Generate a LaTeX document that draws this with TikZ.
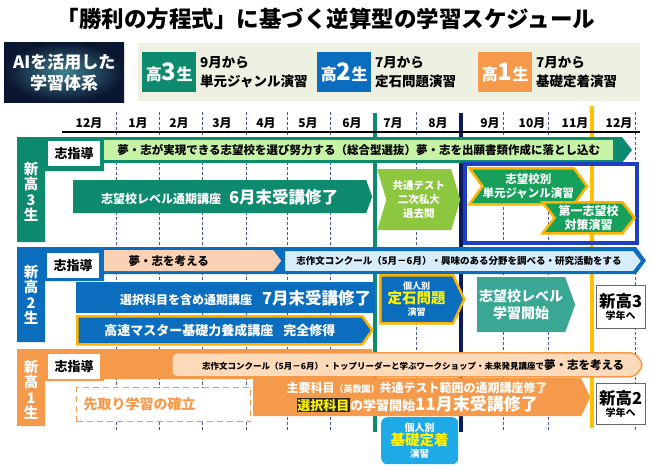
\documentclass[tikz,border=0pt]{standalone}
\usepackage{fontspec}
\setmainfont{Noto Sans CJK JP}
\usepackage{tikz}
\usepackage{xcolor}
\usetikzlibrary{positioning, shapes.symbols}

\definecolor{green3}{HTML}{0E8A6E}
\definecolor{lightgreen}{HTML}{C8F2A6}
\definecolor{leaf}{HTML}{8DC63F}
\definecolor{royal}{HTML}{1D3FC4}
\definecolor{chevgreen}{HTML}{17A05A}
\definecolor{amber}{HTML}{FFB300}
\definecolor{blue2}{HTML}{0B6DBE}
\definecolor{peach}{HTML}{FAD1B2}
\definecolor{skyband}{HTML}{D7EDFB}
\definecolor{teal2}{HTML}{3AA794}
\definecolor{orange1}{HTML}{F5994A}
\definecolor{lightpeach}{HTML}{FDDAB9}
\definecolor{sky}{HTML}{1EAAE6}
\definecolor{goldbar}{HTML}{FFC000}
\definecolor{navybar}{HTML}{0B1B5E}
\definecolor{beige}{HTML}{EEF1E2}
\definecolor{gridblue}{HTML}{4A5A96}
\definecolor{hiyellow}{HTML}{FFF200}
\definecolor{aidark}{HTML}{0A1530}
\definecolor{aiglow}{HTML}{3F7F8F}

\newcommand{\fsz}[2]{\fontsize{#1}{#2}\selectfont}
\setlength{\fboxsep}{0.8pt}

\begin{document}
\begin{tikzpicture}[
    x=1pt, y=-1pt,
    every node/.style={inner sep=0pt},
    month/.style={font=\bfseries\fsz{12}{12}},
    gridline/.style={gridblue, dash pattern=on 2.5pt off 2.5pt, line width=0.7pt},
    gradebox/.style={anchor=north west, minimum width=54pt, minimum height=40pt, text=white, font=\bfseries\fsz{16}{16}},
    legendtext/.style={anchor=west, align=left, font=\bfseries\fsz{13.5}{19}},
    shido/.style={anchor=north west, fill=white, minimum width=52pt, minimum height=25pt, font=\bfseries\fsz{13}{13}},
    rowlabel/.style={text=white, align=center, font=\bfseries\fsz{14.5}{15.5}},
    chevron/.style={signal, signal to=east, anchor=north west, text=white, align=center},
    nextyear/.style={anchor=north west, draw=black!60, fill=white, align=center, minimum width=49pt, minimum height=43pt},
  ]
  \fill[white] (0,0) rectangle (655,469);
  \useasboundingbox (0,0) rectangle (655,469);

  % title and legend
  \node[font=\bfseries\fsz{22.5}{24}] (title) at (326,19) {「勝利の方程式」に基づく逆算型の学習スケジュール};
  \node[anchor=north west, inner color=aiglow, outer color=aidark, minimum width=120pt, minimum height=60pt,
        text=white, align=center, font=\bfseries\fsz{17}{21}] (ai) at (4,42) {AIを活用した\\学習体系};
  \node[anchor=north west, fill=beige, minimum width=502pt, minimum height=58pt] (legend) at (138,43) {};
  \node[gradebox, fill=green3] (g3) at (142,52) {高{\fsz{24}{24}3}生};
  \node[legendtext] (g3text) at (200,72) {9月から\\単元ジャンル演習};
  \node[gradebox, fill=blue2] (g2) at (317,52) {高{\fsz{24}{24}2}生};
  \node[legendtext] (g2text) at (375,72) {7月から\\定石問題演習};
  \node[gradebox, fill=orange1] (g1) at (478,52) {高{\fsz{24}{24}1}生};
  \node[legendtext] (g1text) at (536,72) {7月から\\基礎定着演習};

  % month axis
  \foreach \dx in {116,159,202,246,287,330,416,503,548,635}
    \draw[gridline] (\dx,112) -- (\dx,430);
  \draw[green3, line width=4pt] (375,113) -- (375,432);
  \draw[navybar, line width=4pt] (461,113) -- (461,432);
  \draw[goldbar, line width=4pt] (592,106) -- (592,428);
  \draw[line width=1.5pt] (62,132) -- (640,132);
  \foreach \mx/\ml in {89/12月, 138/1月, 179/2月, 222/3月, 266/4月, 308/5月, 352/6月,
                       393/7月, 438/8月, 490/9月, 532/10月, 575/11月, 619/12月}
    \node[month] (m\mx) at (\mx,123) {\ml};

  % 新高3生
  \fill[green3] (17,137) -- (622,137) -- (632,150) -- (622,163) -- (104,163) -- (104,171)
    -- (45,171) -- (45,242) -- (17,242) -- cycle;
  \node[rowlabel] (lab3) at (31,192) {新\\高\\3\\生};
  \node[shido] (shido3) at (48,141) {志指導};
  \node[anchor=north west, fill=lightgreen, minimum width=509pt, minimum height=20pt, font=\bfseries\fsz{11.5}{11.5}]
    (dream3) at (104,140) {夢・志が実現できる志望校を選び努力する（総合型選抜）夢・志を出願書類作成に落とし込む};
  \node[chevron, fill=green3, minimum width=299pt, minimum height=33pt, signal pointer angle=140, font=\bfseries]
    (course3) at (73,180) {{\fsz{12}{12}志望校レベル通期講座}\hspace{8pt}{\fsz{16.5}{16.5}6月末受講修了}};
  \node[chevron, signal from=west, fill=leaf, minimum width=83pt, minimum height=61pt, signal pointer angle=147,
        font=\bfseries\fsz{10.5}{14}] (past3) at (377,169) {共通テスト\\二次私大\\過去問};
  \node[anchor=north west, draw=royal, line width=3.5pt, minimum width=172pt, minimum height=79pt] (focus3) at (463,162) {};
  \node[chevron, signal from=west, fill=chevgreen, draw=amber, line width=2.5pt, minimum width=116pt, minimum height=36pt,
        signal pointer angle=108, font=\bfseries\fsz{11.5}{14}] (genre3) at (467,167) {志望校別\\単元ジャンル演習};
  \node[chevron, signal from=west, fill=chevgreen, draw=amber, line width=2.5pt, minimum width=92pt, minimum height=31pt,
        signal pointer angle=104, font=\bfseries\fsz{12}{14}] (first3) at (540,201) {第一志望校\\対策演習};

  % 新高2生
  \fill[blue2] (17,247) -- (636,247) -- (646,260.5) -- (636,274) -- (104,274) -- (104,281)
    -- (45,281) -- (45,342) -- (17,342) -- cycle;
  \node[rowlabel] (lab2) at (31,295) {新\\高\\2\\生};
  \node[shido] (shido2) at (47,253) {志指導};
  \node[chevron, fill=peach, text=black, minimum width=177pt, minimum height=21pt, signal pointer angle=105,
        font=\bfseries\fsz{11.5}{11.5}] (dream2) at (104,250) {夢・志を考える\hspace*{40pt}};
  \node[chevron, fill=skyband, draw=blue2, line width=1pt, text=black, minimum width=357pt, minimum height=21pt,
        signal pointer angle=105, font=\bfseries\fsz{9.5}{9.5}]
    (essay2) at (284,250) {志作文コンクール（5月－6月）・興味のある分野を調べる・研究活動をする};
  \node[anchor=north west, fill=blue2, text=white, minimum width=299pt, minimum height=31pt, font=\bfseries]
    (course2) at (76,282) {\hspace*{40pt}{\fsz{12}{12}選択科目を含め通期講座}\hspace{10pt}{\fsz{16.5}{16.5}7月末受講修了}};
  \node[chevron, fill=blue2, draw=amber, line width=2.5pt, minimum width=295pt, minimum height=28pt,
        signal pointer angle=109, font=\bfseries\fsz{13}{13}] (master2) at (76,315) {高速マスター基礎力養成講座\hspace{10pt}完全修得};
  \node[chevron, fill=blue2, draw=amber, line width=2.5pt, minimum width=84pt, minimum height=48pt,
        signal pointer angle=130, font=\bfseries]
    (joseki2) at (379,274) {{\fsz{9}{11}個人別}\\{\fsz{14.5}{16}\color{hiyellow}定石問題}\\{\fsz{9}{11}演習}};
  \node[chevron, fill=teal2, minimum width=98pt, minimum height=55pt, signal pointer angle=140,
        font=\bfseries\fsz{14}{17}] (level2) at (477,277) {志望校レベル\\学習開始};
  \node[nextyear] (next2) at (596,285) {{\bfseries\fsz{16.5}{17}新高3}\\{\bfseries\fsz{10}{12}学年へ}};

  % 新高1生
  \fill[orange1] (17,349) -- (372,349) -- (372,379) -- (104,379) -- (104,381)
    -- (45,381) -- (45,426) -- (17,426) -- cycle;
  \node[rowlabel] (lab1) at (31,390) {新\\高\\1\\生};
  \node[shido] (shido1) at (48,354) {志指導};
  \node[chevron, fill=lightpeach, draw=orange1, line width=1.5pt, rounded corners=5pt, text=black,
        minimum width=472pt, minimum height=24pt, signal pointer angle=106, font=\bfseries]
    (essay1) at (171,352) {\hspace*{20pt}{\fsz{8.5}{8.5}志作文コンクール（5月－6月）・トップリーダーと学ぶワークショップ・未来発見講座で}{\fsz{11.5}{11.5}夢・志を考える}};
  \node[anchor=north west, draw=orange1, dash pattern=on 6pt off 4pt, line width=1.3pt, fill=white, text=orange1,
        minimum width=174pt, minimum height=34pt, text width=160pt, inner xsep=7pt, align=left,
        font=\bfseries\fsz{14}{14}] (advance1) at (76,387) {先取り学習の確立};
  \node[chevron, fill=orange1, minimum width=337pt, minimum height=38pt, signal pointer angle=129, font=\bfseries]
    (course1) at (253,378) {{\fsz{12}{12}主要科目{\fsz{9}{9}（英数国）}共通テスト範囲の通期講座修了}\\[1pt]{\fsz{13}{13}\colorbox{black!85}{\color{hiyellow}選択科目}の学習開始}{\fsz{17}{17}11月末受講修了}};
  \node[nextyear, minimum height=41pt] (next1) at (596,383) {{\bfseries\fsz{16.5}{17}新高2}\\{\bfseries\fsz{10}{12}学年へ}};
  \node[anchor=north west, fill=sky, rounded corners=6pt, minimum width=77pt, minimum height=47pt, text=white,
        align=center, font=\bfseries]
    (basic1) at (381,417) {{\fsz{10}{12}個人別}\\{\fsz{14.5}{16}\color{hiyellow}基礎定着}\\{\fsz{9.5}{11}演習}};
\end{tikzpicture}
\end{document}
